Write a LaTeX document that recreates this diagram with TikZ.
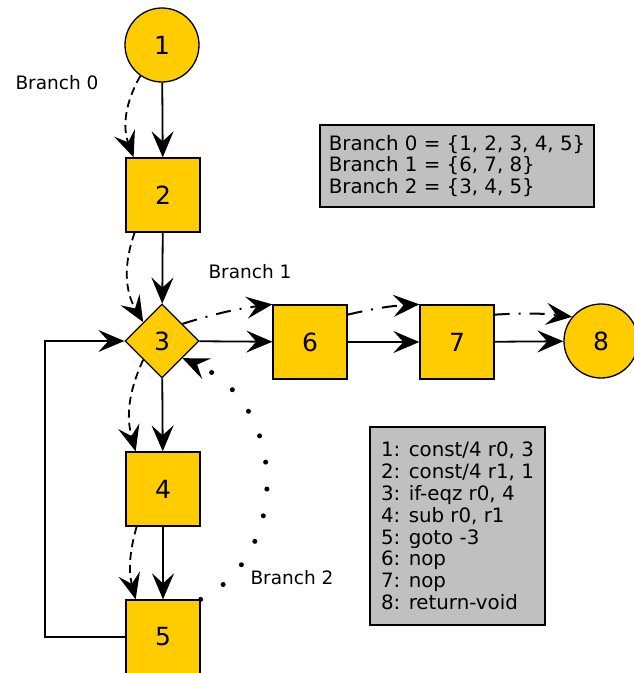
\documentclass[tikz,border=0pt]{standalone}
\usepackage{fontspec}
\setmainfont{DejaVu Sans}
\usetikzlibrary{shapes.geometric,arrows.meta}
\definecolor{blockgold}{RGB}{255,204,0}
\definecolor{boxgray}{RGB}{192,192,192}
\begin{document}
\begin{tikzpicture}[x=1pt,y=-1pt,
  block/.style={draw=black,line width=1.3pt,fill=blockgold,minimum size=74pt,inner sep=0pt,font=\fontsize{25}{29}\selectfont},
  blocksq/.style={block,rectangle},
  blockend/.style={block,circle},
  blockif/.style={block,diamond,minimum size=74pt},
  flow/.style={line width=1.8pt,-{Stealth[length=26pt,width=22pt,inset=10pt]}},
  brzero/.style={flow,dash pattern=on 8pt off 5pt},
  brone/.style={flow,line width=2pt,dash pattern=on 15pt off 9pt on 2pt off 9pt},
  brtwo/.style={flow,line width=5pt,line cap=round,dash pattern=on 0pt off 27pt},
  brlabel/.style={font=\fontsize{18.5}{21.5}\selectfont},
  infobox/.style={draw=black,line width=1.8pt,fill=boxgray,align=left,inner ysep=5pt,font=\fontsize{19.8}{21.8}\selectfont}]
\useasboundingbox (0,0) rectangle (633,673);
% blocks
\node[blockend] (n1) at (162,45) {1};
\node[blocksq] (n2) at (163,195) {2};
\node[blockif] (n3) at (162,341) {3};
\node[blocksq] (n4) at (163,489) {4};
\node[blocksq] (n5) at (163,637) {5};
\node[blocksq] (n6) at (310,342) {6};
\node[blocksq] (n7) at (457,342) {7};
\node[blockend] (n8) at (601,341) {8};
% plain control flow
\draw[flow] (n1) -- (n2);
\draw[flow] (n2) -- (n3);
\draw[flow] (n3) -- (n4);
\draw[flow] (n4) -- (n5);
\draw[flow] (n3) -- (n6);
\draw[flow] (n6) -- (n7);
\draw[flow] (n7) -- (n8);
% back edge
\coordinate (back) at (45,637);
\draw[flow] (n5.west) -- (back) |- (n3.west);
% branch 0
\draw[brzero] (n1.235) to[bend right=25] (n2.128);
\draw[brzero] (n2.233) to[bend right=25] (n3.135);
\draw[brzero] (n3.225) to[bend right=20] (n4.126);
\draw[brzero] (n4.235) to[bend right=15] (n5.126);
\node[brlabel] (lb0) at (57,83) {Branch 0};
% branch 1
\draw[brone] (n3.40) to[bend left=5] (n6.north west);
\draw[brone] (n6.36) to[bend left=5] (n7.north west);
\draw[brone] (n7.36) to[bend left=5] (n8.140);
\node[brlabel] (lb1) at (250,272) {Branch 1};
% branch 2
\draw[brtwo] (n5.north east) .. controls (290,555) and (290,405) .. (n3.-40);
\node[brlabel] (lb2) at (292,578) {Branch 2};
% branch sets
\node[infobox,minimum width=274pt,minimum height=82pt] (sets) at (457,166)
  {Branch 0 = \{1, 2, 3, 4, 5\}\\Branch 1 = \{6, 7, 8\}\\Branch 2 = \{3, 4, 5\}};
% bytecode
\node[infobox,minimum width=175pt,minimum height=198pt] (code) at (457.5,526)
  {1: const/4 r0, 3\\2: const/4 r1, 1\\3: if-eqz r0, 4\\4: sub r0, r1\\5: goto -3\\6: nop\\7: nop\\8: return-void};
\end{tikzpicture}
\end{document}
